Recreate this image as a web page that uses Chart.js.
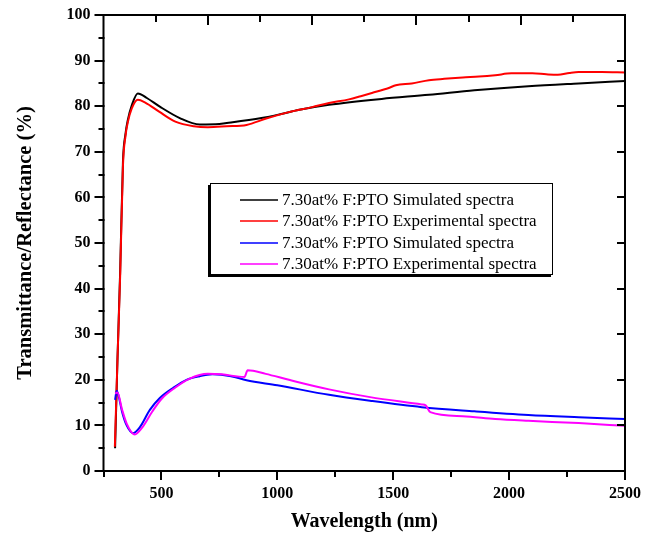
<!DOCTYPE html>
<html>
<head>
<meta charset="utf-8">
<script src="https://cdn.jsdelivr.net/npm/chart.js@4.4.0/dist/chart.umd.min.js"></script>
<style>
    html, body { margin: 0; padding: 0; background: #fff; }
</style>
</head>
<body>
<canvas id="myChart" width="665" height="543"></canvas>
<script>
// DATA
const legendLabels = [
    "7.30at% F:PTO Simulated spectra",
    "7.30at% F:PTO Experimental spectra",
    "7.30at% F:PTO Simulated spectra",
    "7.30at% F:PTO Experimental spectra",
];
const seriesColors = ["#000000", "#ff0000", "#0000ff", "#ff00ff"];

const tSimWl  = [300, 310, 322, 334, 345, 355, 372, 398, 437, 493, 579, 665, 750, 807, 952, 1000, 1095, 1223, 1450, 1654, 1850, 2083, 2300, 2500];
const tSimVal = [5, 24, 44, 68, 74, 77, 80.2, 82.8, 81.8, 79.9, 77.4, 76.0, 76.1, 76.5, 77.6, 78.1, 79.2, 80.3, 81.6, 82.5, 83.5, 84.4, 85.0, 85.5];

const tExpWl  = [299, 310, 322, 334, 345, 355, 372, 398, 430, 490, 560, 640, 700, 780, 867, 952, 1050, 1150, 1223, 1309, 1360, 1408, 1481, 1511, 1580, 1654, 1720, 1800, 1870, 1940, 2010, 2100, 2160, 2210, 2260, 2300, 2400, 2500];
const tExpVal = [5.3, 24, 43, 67, 73.5, 76.5, 79.5, 81.4, 80.8, 78.8, 76.6, 75.6, 75.4, 75.6, 75.9, 77.3, 78.7, 79.8, 80.7, 81.5, 82.2, 82.9, 84.0, 84.6, 85.0, 85.7, 86.0, 86.3, 86.5, 86.8, 87.2, 87.2, 87.0, 86.9, 87.3, 87.5, 87.5, 87.4];

const rSimWl  = [300, 307, 315, 330, 350, 378, 407, 450, 493, 550, 608, 665, 720, 800, 867, 1000, 1223, 1400, 1623, 1850, 2083, 2300, 2500];
const rSimVal = [15.6, 17.6, 16.5, 13, 10, 8.3, 9.6, 13.4, 16.0, 18.2, 20.0, 20.8, 21.2, 20.8, 19.9, 18.8, 16.7, 15.4, 14.0, 13.1, 12.3, 11.8, 11.4];

const rExpWl  = [300, 310, 330, 350, 385, 415, 460, 500, 560, 620, 700, 760, 858, 872, 950, 1050, 1223, 1400, 1623, 1640, 1660, 1800, 1940, 2083, 2300, 2500];
const rExpVal = [17.0, 17.2, 13.5, 10.4, 8.0, 9.4, 13.0, 15.8, 18.3, 20.2, 21.3, 21.2, 20.6, 22.1, 21.3, 20.0, 17.9, 16.2, 14.6, 14.4, 12.9, 12.0, 11.4, 11.0, 10.5, 9.9];

const xTickValues = [500, 1000, 1500, 2000, 2500];
const xMinorValues = [250, 750, 1250, 1750, 2250];
const yTickValues = [0, 10, 20, 30, 40, 50, 60, 70, 80, 90, 100];
const yMinorValues = [5, 15, 25, 35, 45, 55, 65, 75, 85, 95];
// DATA

function toPoints(xs, ys) {
    return xs.map(function (x, i) {
        return { x: x, y: ys[i] };
    });
}

// FRAME AND TICK MARKS
const framePlugin = {
    id: "frame",
    afterDraw: function (chart) {
        const ctx = chart.ctx;
        const a = chart.chartArea;
        const xs = chart.scales.x;
        const ys = chart.scales.y;
        ctx.save();
        ctx.strokeStyle = "#000";
        ctx.lineWidth = 2;
        ctx.lineCap = "square";
        ctx.beginPath();
        // bottom ticks (outward)
        xTickValues.forEach(function (v) {
            const p = Math.round(xs.getPixelForValue(v));
            ctx.moveTo(p, a.bottom); ctx.lineTo(p, a.bottom + 8);
        });
        xMinorValues.forEach(function (v) {
            const p = Math.round(xs.getPixelForValue(v));
            ctx.moveTo(p, a.bottom); ctx.lineTo(p, a.bottom + 5);
        });
        // left ticks (outward) and right ticks (inward)
        yTickValues.forEach(function (v) {
            const p = Math.round(ys.getPixelForValue(v));
            ctx.moveTo(a.left, p); ctx.lineTo(a.left - 8, p);
            ctx.moveTo(a.right, p); ctx.lineTo(a.right - 7, p);
        });
        yMinorValues.forEach(function (v) {
            const p = Math.round(ys.getPixelForValue(v));
            ctx.moveTo(a.left, p); ctx.lineTo(a.left - 4, p);
        });
        // top ticks (inward, mirrored axis with 10 divisions)
        for (let i = 1; i < 10; i++) {
            const p = Math.round(a.left + (a.right - a.left) * i / 10);
            ctx.moveTo(p, a.top); ctx.lineTo(p, a.top + (i % 2 === 0 ? 9 : 6));
        }
        ctx.stroke();
        ctx.strokeRect(a.left, a.top, a.right - a.left, a.bottom - a.top);
        ctx.restore();
    },
};
// FRAME AND TICK MARKS

// LEGEND BOX
const legendPlugin = {
    id: "boxLegend",
    afterDraw: function (chart) {
        const ctx = chart.ctx;
        const bx = 210, by = 183, bw = 343, bh = 92;
        ctx.save();
        ctx.fillStyle = "#000";
        ctx.fillRect(bx - 2, by + 2, bw, bh);
        ctx.fillStyle = "#fff";
        ctx.fillRect(bx, by, bw, bh);
        ctx.strokeStyle = "#000";
        ctx.lineWidth = 1;
        ctx.strokeRect(bx + 0.5, by + 0.5, bw - 1, bh - 1);
        ctx.font = "17px 'Liberation Serif'";
        ctx.textBaseline = "middle";
        ctx.textAlign = "left";
        const rows = [200, 221, 243, 264];
        chart.data.datasets.forEach(function (ds, i) {
            ctx.strokeStyle = ds.borderColor;
            ctx.lineWidth = 1.5;
            ctx.beginPath();
            ctx.moveTo(240, rows[i]);
            ctx.lineTo(278, rows[i]);
            ctx.stroke();
            ctx.fillStyle = "#000";
            ctx.fillText(ds.label, 282, rows[i] + 1);
        });
        ctx.restore();
    },
};
// LEGEND BOX

const ctx = document.getElementById("myChart").getContext("2d");
new Chart(ctx, {
    type: "line",
    data: {
        datasets: [
            { label: legendLabels[0], data: toPoints(tSimWl, tSimVal), borderColor: seriesColors[0], order: 4 },
            { label: legendLabels[1], data: toPoints(tExpWl, tExpVal), borderColor: seriesColors[1], order: 3 },
            { label: legendLabels[2], data: toPoints(rSimWl, rSimVal), borderColor: seriesColors[2], order: 2 },
            { label: legendLabels[3], data: toPoints(rExpWl, rExpVal), borderColor: seriesColors[3], order: 1 },
        ],
    },
    options: {
        responsive: false,
        animation: false,
        devicePixelRatio: 1,
        layout: { padding: { top: 15, right: 40, left: 0, bottom: 0 } },
        elements: {
            point: { radius: 0 },
            line: { borderWidth: 2, cubicInterpolationMode: "monotone", fill: false },
        },
        plugins: {
            legend: { display: false },
            tooltip: { enabled: false },
        },
        scales: {
            x: {
                type: "linear",
                min: 250,
                max: 2500,
                afterBuildTicks: function (scale) {
                    scale.ticks = xTickValues.map(function (v) { return { value: v }; });
                },
                afterFit: function (scale) {
                    scale.height = 72;
                    scale.paddingLeft = 0;
                    scale.paddingRight = 0;
                },
                grid: { display: false, drawTicks: false },
                border: { display: false },
                ticks: {
                    color: "#000",
                    padding: 13,
                    maxRotation: 0,
                    autoSkip: false,
                    callback: function (v) { return String(v); },
                    font: { family: "Liberation Serif", size: 16, weight: "bold" },
                },
                title: {
                    display: true,
                    text: "Wavelength (nm)",
                    color: "#000",
                    padding: { top: 0, bottom: 9 },
                    font: { family: "Liberation Serif", size: 20, weight: "bold" },
                },
            },
            y: {
                min: 0,
                max: 100,
                afterBuildTicks: function (scale) {
                    scale.ticks = yTickValues.map(function (v) { return { value: v }; });
                },
                afterFit: function (scale) {
                    scale.width = 103.5;
                    scale.paddingTop = 0;
                    scale.paddingBottom = 0;
                },
                grid: { display: false, drawTicks: false },
                border: { display: false },
                ticks: {
                    color: "#000",
                    padding: 13,
                    autoSkip: false,
                    callback: function (v) { return String(v); },
                    font: { family: "Liberation Serif", size: 16, weight: "bold" },
                },
                title: {
                    display: true,
                    text: "Transmittance/Reflectance (%)",
                    color: "#000",
                    padding: { top: 13, bottom: 0 },
                    font: { family: "Liberation Serif", size: 20.5, weight: "bold" },
                },
            },
        },
    },
    plugins: [framePlugin, legendPlugin],
});
</script>
</body>
</html>
